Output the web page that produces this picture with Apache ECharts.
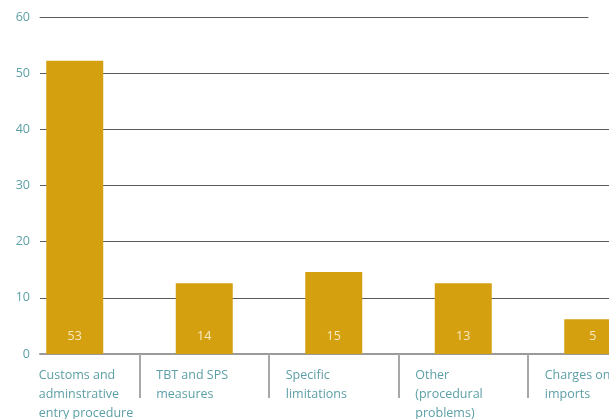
<!DOCTYPE html>
<html>
<head>
<meta charset="utf-8">
<script src="https://cdn.jsdelivr.net/npm/echarts@6/dist/echarts.min.js"></script>
<style>
  html, body { margin: 0; padding: 0; background: #fff; }
  #main { width: 609px; height: 419px; }
</style>
</head>
<body>
<div id="main"></div>
<script>
// categories (line breaks as printed)
var categories = [
  "Customs and\nadminstrative\nentry procedure",
  "TBT and SPS\nmeasures",
  "Specific\nlimitations",
  "Other\n(procedural\nproblems)",
  "Charges on\nimports"
];
// bar heights as drawn, and the numbers printed in the bars
var barHeights = [52.2, 12.6, 14.6, 12.6, 6.2];
var barLabels = [53, 14, 15, 13, 5];
var yTicks = [0, 10, 20, 30, 40, 50, 60];

var teal = "#5c9fa6";
var gold = "#d4a010";
var font = "Open Sans";

var myChart = echarts.init(document.getElementById("main"));

var option = {
  animation: false,
  grid: [
    { left: 40, top: 17, width: 620, height: 337, outerBoundsMode: "none" },   // gridlines + y labels
    { left: 10, top: 17, width: 647.5, height: 337, outerBoundsMode: "none" }, // bars + categories
    { left: 40, top: 17, width: 548, height: 10, outerBoundsMode: "none" }     // top (60) line, shorter
  ],
  xAxis: [
    {
      gridIndex: 0, type: "value", min: 0, max: 1,
      axisLine: { show: true, onZero: false, lineStyle: { color: "#9a9a9a", width: 2 } },
      axisTick: { show: false }, axisLabel: { show: false }, splitLine: { show: false }
    },
    {
      gridIndex: 1, type: "category", data: categories,
      axisLine: { show: false },
      axisTick: {
        show: true, length: 44,
        interval: function (i) { return i > 0; },
        lineStyle: { color: "#a8a8a8", width: 2 }
      },
      axisLabel: {
        interval: 0, margin: 12, align: "center", width: 96,
        formatter: function (v, i) {
          var st = i === 0 ? "b" : "a";
          return v.split("\n").map(function (l) { return "{" + st + "|" + l + "}"; }).join("\n");
        },
        rich: {
          a: { align: "left", color: teal, fontSize: 12.5, lineHeight: 19, fontFamily: font },
          b: { align: "left", color: teal, fontSize: 12.5, lineHeight: 19, fontFamily: font, padding: [0, 0, 0, 12] }
        }
      }
    },
    {
      gridIndex: 2, type: "value", position: "top", min: 0, max: 1,
      axisLine: { show: true, onZero: false, lineStyle: { color: "#5a5a5a", width: 1 } },
      axisTick: { show: false }, axisLabel: { show: false }, splitLine: { show: false }
    }
  ],
  yAxis: [
    {
      gridIndex: 0, type: "value", min: yTicks[0], max: yTicks[yTicks.length - 1], interval: 10,
      axisLine: { show: false }, axisTick: { show: false },
      axisLabel: { color: teal, fontSize: 12.5, fontFamily: font, margin: 10 },
      splitLine: { show: true, showMinLine: false, showMaxLine: false, lineStyle: { color: "#5a5a5a", width: 1 } }
    },
    { gridIndex: 1, type: "value", min: 0, max: 60, show: false },
    { gridIndex: 2, type: "value", min: 0, max: 1, show: false }
  ],
  series: [
    {
      type: "bar",
      xAxisIndex: 1,
      yAxisIndex: 1,
      data: barHeights,
      barWidth: 57,
      itemStyle: { color: gold },
      z: 5,
      label: {
        show: true,
        position: "insideBottom",
        distance: 11,
        color: "#f6eac4",
        fontSize: 12.5,
        fontFamily: font,
        formatter: function (p) { return barLabels[p.dataIndex]; }
      }
    }
  ]
};

myChart.setOption(option);
</script>
</body>
</html>
